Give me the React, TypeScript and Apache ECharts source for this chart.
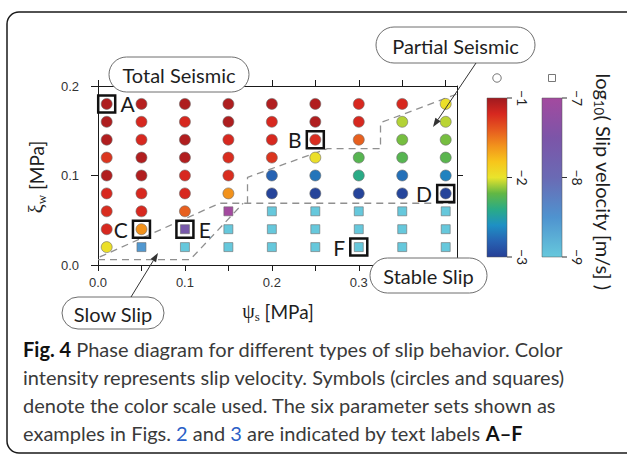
import React, { useEffect, useRef } from "react";
import * as echarts from "echarts";

// ---- data ----
const psiCols = [0.01, 0.05, 0.1, 0.15, 0.2, 0.25, 0.3, 0.35, 0.4];
const xiRows = [0.18, 0.16, 0.14, 0.12, 0.1, 0.08, 0.06, 0.04, 0.02];

// log10 slip velocity [m/s] for seismic (circle) runs, one array per xi row (null = slow run)
const seis018 = [-1.05, -1.08, -1.05, -1.05, -1.06, -1.06, -1.2, -1.2, -1.97];
const seis016 = [-1.05, -1.2, -1.2, -1.05, -1.2, -1.06, -1.2, -2.08, -2.07];
const seis014 = [-1.06, -1.2, -1.06, -1.2, -1.2, -1.22, -1.42, -2.17, -2.17];
const seis012 = [-1.25, -1.06, -1.06, -1.22, -1.25, -1.97, -2.24, -2.24, -2.23];
const seis010 = [-1.06, -1.06, -1.2, -1.22, -2.8, -2.72, -2.4, -2.74, -2.66];
const seis008 = [-1.2, -1.2, -1.2, -1.6, -2.97, -2.97, -2.97, -2.96, -2.97];
const seis006 = [-1.22, -1.2, -1.42, null, null, null, null, null, null];
const seis004 = [-1.2, -1.6, null, null, null, null, null, null, null];
const seis002 = [-1.97, null, null, null, null, null, null, null, null];
const seisRows = [seis018, seis016, seis014, seis012, seis010, seis008, seis006, seis004, seis002];

// log10 slip velocity for slow / stable (square) runs
const slow006 = [null, null, null, -7.0, -9, -9, -9, -9, -9];
const slow004 = [null, null, -7.6, -9, -9, -9, -9, -9, -9];
const slow002 = [null, -8.55, -9, -9, -9, -9, -9, -9, -9];
const slowRowXi = [0.06, 0.04, 0.02];
const slowRows = [slow006, slow004, slow002];

// example cases A-F
const caseNames = ["A", "B", "C", "D", "E", "F"];
const casePsi = [0.01, 0.25, 0.05, 0.4, 0.1, 0.3];
const caseXi = [0.18, 0.14, 0.04, 0.08, 0.04, 0.02];
const caseLabelSide = ["right", "left", "left", "left", "right", "left"];

// regime boundaries (dashed)
const upperBoundPsi = [0.172, 0.172, 0.264, 0.325, 0.325, 0.413];
const upperBoundXi = [0.069, 0.098, 0.13, 0.13, 0.159, 0.191];
const lowerBoundPsi = [0.002, 0.14, 0.413];
const lowerBoundXi = [0.009, 0.069, 0.069];
const slowBoundPsi = [0.0, 0.106, 0.167];
const slowBoundXi = [0.006, 0.006, 0.069];

// axes ticks
const psiTicks = [0, 0.05, 0.1, 0.15, 0.2, 0.25, 0.3, 0.35, 0.4];
const psiTickLabels = [0, 0.1, 0.2, 0.3];
const xiTicks = [0, 0.1, 0.2];

// colour scales (low -> high)
const seisMin = -3;
const seisMax = -1;
const seisColors = ["#263f96", "#2763b3", "#1e90c4", "#2aab86", "#62b744", "#e9e42c", "#f7c51b", "#f2921c", "#e65a1f", "#d7281f", "#a01a1f"];
const seisBarTicks = ["−1", "−2", "−3"];
const slowMin = -9;
const slowMax = -7;
const slowColors = ["#66c8dc", "#4f93cf", "#6a6ab4", "#7c55a8", "#a34a9f"];
const slowBarTicks = ["−7", "−8", "−9"];

const captionLines = [
  "{b|Fig. 4} Phase diagram for different types of slip behavior. Color",
  "intensity represents slip velocity. Symbols (circles and squares)",
  "denote the color scale used. The six parameter sets shown as",
  "examples in Figs. {l|2} and {l|3} are indicated by text labels {b|A–F}",
];

const SANS = "Lato, 'Open Sans', sans-serif";
const SERIF = "'Liberation Serif', 'DejaVu Serif', serif";

function arrow(x1: number, y1: number, x2: number, y2: number) {
  const a = Math.atan2(y2 - y1, x2 - x1);
  const L = 9, W = 3.2;
  const bx = x2 - L * Math.cos(a), by = y2 - L * Math.sin(a);
  const px = -Math.sin(a) * W, py = Math.cos(a) * W;
  return [
    { type: "line", z: 60, shape: { x1, y1, x2: bx, y2: by }, style: { stroke: "#333", lineWidth: 1 } },
    { type: "polygon", z: 60, shape: { points: [[x2, y2], [bx + px, by + py], [bx - px, by - py]] }, style: { fill: "#333" } },
  ];
}

function bubble(x: number, y: number, w: number, h: number, text: string, fs: number) {
  return [
    { type: "rect", z: 50, shape: { x, y, width: w, height: h, r: h / 2 }, style: { fill: "#fff", stroke: "#6e6e6e", lineWidth: 1 } },
    { type: "text", z: 51, x: x + w / 2, y: y + h / 2 + 0.5, style: { text, fontFamily: SANS, fontSize: fs, fill: "#1e1e1e", align: "center", verticalAlign: "middle" } },
  ];
}

function gradStops(colors: string[]) {
  // offset 0 = top = high value; offsets ascending
  const n = colors.length;
  return colors.slice().reverse().map((c, i) => ({ offset: i / (n - 1), color: c }));
}

export default function App() {
  const ref = useRef<HTMLDivElement>(null);
  useEffect(() => {
    if (!ref.current) return;
    const chart = echarts.init(ref.current, undefined, { renderer: "svg" });

    const circleData: any[] = [];
    seisRows.forEach((row, r) =>
      row.forEach((v, c) => {
        if (v !== null) circleData.push([psiCols[c], xiRows[r], v]);
      })
    );
    const squareData: any[] = [];
    slowRows.forEach((row, r) =>
      row.forEach((v, c) => {
        if (v !== null) squareData.push([psiCols[c], slowRowXi[r], v]);
      })
    );
    const caseData = caseNames.map((n, i) => ({
      value: [casePsi[i], caseXi[i]],
      name: n,
      label: { position: caseLabelSide[i], distance: 4 },
    }));

    const barY = 98, barH = 159, bar1X = 487, bar2X = 542, barW = 20;
    const tickYs = [barY, barY + barH / 2, barY + barH];

    const graphic: any[] = [
      // card outline
      { type: "rect", z: 1, shape: { x: 7, y: 12, width: 660, height: 441, r: 12 }, style: { fill: "none", stroke: "#1a1a1a", lineWidth: 1.5 } },
      // colour bars
      { type: "rect", z: 10, shape: { x: bar1X, y: barY, width: barW, height: barH }, style: { fill: new echarts.graphic.LinearGradient(0, 0, 0, 1, gradStops(seisColors)), stroke: "#555", lineWidth: 0.5 } },
      { type: "rect", z: 10, shape: { x: bar2X, y: barY, width: barW, height: barH }, style: { fill: new echarts.graphic.LinearGradient(0, 0, 0, 1, gradStops(slowColors)), stroke: "#555", lineWidth: 0.5 } },
      { type: "circle", z: 10, shape: { cx: bar1X + barW / 2, cy: 78, r: 4.2 }, style: { fill: "#fff", stroke: "#777", lineWidth: 1 } },
      { type: "rect", z: 10, shape: { x: bar2X + barW / 2 - 3.5, y: 74.5, width: 7, height: 7 }, style: { fill: "#fff", stroke: "#777", lineWidth: 1 } },
      {
        type: "text", z: 10, x: 604, y: 182, rotation: -Math.PI / 2,
        style: {
          text: "{t|log}{s|10}{t|( Slip velocity [m/s] )}", align: "center", verticalAlign: "middle", fill: "#1e1e1e",
          rich: { t: { fontFamily: SANS, fontSize: 20, lineHeight: 24, fill: "#1e1e1e" }, s: { fontFamily: SANS, fontSize: 13, lineHeight: 12, verticalAlign: "bottom", fill: "#1e1e1e" } },
        },
      },
      // axis titles
      {
        type: "text", z: 10, x: 36, y: 177, rotation: Math.PI / 2,
        style: {
          text: "{g|ξ}{s|w}{t| [MPa]}", align: "center", verticalAlign: "middle", fill: "#1e1e1e",
          rich: { g: { fontFamily: SERIF, fontSize: 20, lineHeight: 24, fill: "#1e1e1e" }, s: { fontFamily: SERIF, fontSize: 13, lineHeight: 12, verticalAlign: "bottom", fill: "#1e1e1e" }, t: { fontFamily: SANS, fontSize: 19, lineHeight: 24, fill: "#1e1e1e" } },
        },
      },
      {
        type: "text", z: 10, x: 278, y: 311,
        style: {
          text: "{g|ψ}{s|s}{t| [MPa]}", align: "center", verticalAlign: "middle", fill: "#1e1e1e",
          rich: { g: { fontFamily: SERIF, fontSize: 20, lineHeight: 24, fill: "#1e1e1e" }, s: { fontFamily: SERIF, fontSize: 13, lineHeight: 12, verticalAlign: "bottom", fill: "#1e1e1e" }, t: { fontFamily: SANS, fontSize: 19, lineHeight: 24, fill: "#1e1e1e" } },
        },
      },
      ...bubble(109, 57, 140, 35, "Total Seismic", 20),
      ...bubble(376, 27, 159, 36, "Partial Seismic", 20),
      ...bubble(370, 258, 117, 35, "Stable Slip", 20),
      ...bubble(62, 297, 102, 32, "Slow Slip", 20),
      ...arrow(476, 63, 433, 127),
      ...arrow(131, 297, 158, 253),
    ];
    tickYs.forEach((y, i) => {
      graphic.push({ type: "line", z: 10, shape: { x1: bar1X + barW, y1: y, x2: bar1X + barW + 5, y2: y }, style: { stroke: "#333", lineWidth: 1 } });
      graphic.push({ type: "line", z: 10, shape: { x1: bar2X + barW, y1: y, x2: bar2X + barW + 5, y2: y }, style: { stroke: "#333", lineWidth: 1 } });
      graphic.push({ type: "text", z: 10, x: bar1X + barW + 15, y, rotation: -Math.PI / 2, style: { text: seisBarTicks[i], fontFamily: SANS, fontSize: 14, fill: "#222", align: "center", verticalAlign: "middle" } });
      graphic.push({ type: "text", z: 10, x: bar2X + barW + 15, y, rotation: -Math.PI / 2, style: { text: slowBarTicks[i], fontFamily: SANS, fontSize: 14, fill: "#222", align: "center", verticalAlign: "middle" } });
    });
    captionLines.forEach((t, i) => {
      graphic.push({
        type: "text", z: 10, x: 23, y: 349 + i * 28, scaleX: 1.0,
        style: {
          text: t, fontFamily: SANS, fontSize: 20, fill: "#3a3a3a", verticalAlign: "middle", align: "left",
          rich: { b: { fontFamily: SANS, fontSize: 20, fontWeight: "bold", fill: "#111" }, l: { fontFamily: SANS, fontSize: 20, fill: "#2b5fc7" } },
        },
      });
    });

    const axisCommon = {
      type: "value",
      min: 0,
      splitLine: { show: false },
      axisLine: { show: true, onZero: false, lineStyle: { color: "#1a1a1a", width: 1 } },
    };

    chart.setOption({
      animation: false,
      backgroundColor: "#fff",
      grid: { left: 98, top: 86, right: 170, bottom: 190, containLabel: false },
      xAxis: [
        {
          ...axisCommon, position: "bottom", max: 0.413,
          axisTick: { show: true, inside: false, length: 6, customValues: psiTicks, lineStyle: { color: "#1a1a1a" } },
          axisLabel: { customValues: psiTickLabels, formatter: (v: number) => v.toFixed(1), fontFamily: "'Liberation Sans', Arial, sans-serif", fontSize: 13, color: "#333", margin: 11 },
        },
        {
          ...axisCommon, position: "top", max: 0.413,
          axisTick: { show: true, inside: false, length: 6, customValues: psiTicks, lineStyle: { color: "#1a1a1a" } },
          axisLabel: { show: false },
        },
      ],
      yAxis: [
        {
          ...axisCommon, position: "left", max: 0.2, interval: 0.1,
          axisTick: { show: true, inside: false, length: 7, customValues: xiTicks, lineStyle: { color: "#1a1a1a" } },
          axisLabel: { customValues: xiTicks, formatter: (v: number) => v.toFixed(1), fontFamily: "'Liberation Sans', Arial, sans-serif", fontSize: 13, color: "#333", margin: 19 },
        },
        {
          ...axisCommon, position: "right", max: 0.2, interval: 0.1,
          axisTick: { show: true, inside: false, length: 6, customValues: [0.1], lineStyle: { color: "#1a1a1a" } },
          axisLabel: { show: false },
        },
      ],
      visualMap: [
        { type: "continuous", show: false, seriesIndex: 0, dimension: 2, min: seisMin, max: seisMax, inRange: { color: seisColors } },
        { type: "continuous", show: false, seriesIndex: 1, dimension: 2, min: slowMin, max: slowMax, inRange: { color: slowColors } },
      ],
      series: [
        {
          type: "scatter", symbol: "circle", symbolSize: 11, data: circleData, z: 5,
          itemStyle: { borderColor: "#6b6b6b", borderWidth: 0.6, opacity: 1 },
        },
        {
          type: "scatter", symbol: "rect", symbolSize: 9, data: squareData, z: 5,
          itemStyle: { borderColor: "#6b6b6b", borderWidth: 0.6, opacity: 1 },
        },
        {
          type: "scatter", symbol: "rect", symbolSize: 17, data: caseData, z: 6,
          itemStyle: { color: "rgba(0,0,0,0)", borderColor: "#111", borderWidth: 2.5, opacity: 1 },
          label: { show: true, formatter: "{b}", fontFamily: SANS, fontSize: 21, color: "#1a1a1a" },
        },
        ...[
          [upperBoundPsi, upperBoundXi],
          [lowerBoundPsi, lowerBoundXi],
          [slowBoundPsi, slowBoundXi],
        ].map(([px, py]) => ({
          type: "line", z: 4, symbol: "none", silent: true,
          data: px.map((p, i) => [p, py[i]]),
          lineStyle: { color: "#909090", width: 1.3, type: [7, 5] },
        })),
      ],
      graphic,
    });
    return () => chart.dispose();
  }, []);
  return <div ref={ref} style={{ position: "fixed", left: 0, top: 0, width: 627, height: 455, background: "#fff" }} />;
}
